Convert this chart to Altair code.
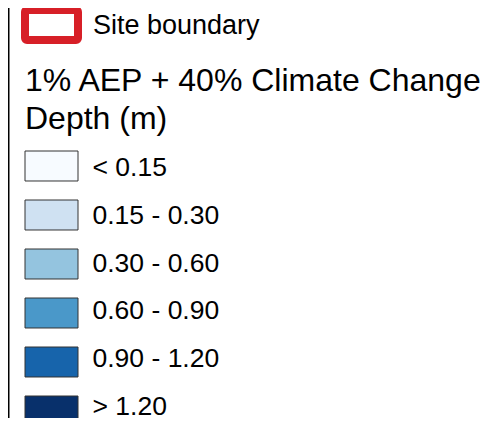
import altair as alt
import pandas as pd

# ---- data ----
depth_labels = ["< 0.15", "0.15 - 0.30", "0.30 - 0.60", "0.60 - 0.90", "0.90 - 1.20", "> 1.20"]
depth_colors = ["#f7fbff", "#cfe1f2", "#94c4df", "#4a98c9", "#1764ab", "#08306b"]
site_label = ["Site boundary"]
site_color = "#d71f27"
title_lines = ["1% AEP + 40% Climate Change", "Depth (m)"]

FONT = "Liberation Sans"
W, H = 488, 410

rows = pd.DataFrame({"i": list(range(len(depth_labels))), "label": depth_labels, "color": depth_colors})
site = pd.DataFrame({"label": site_label})
titles = pd.DataFrame({"j": list(range(len(title_lines))), "text": title_lines})

box_y = alt.Y("i:Q", scale=alt.Scale(domain=[0, len(depth_labels) - 1], range=[158, 403]), axis=None)
label_y = alt.Y("i:Q", scale=alt.Scale(domain=[0, len(depth_labels) - 1], range=[160, 399]), axis=None)

swatches = alt.Chart(rows).mark_point(
    shape="M-1,-0.566H1V0.566H-1Z", size=2809, filled=True, stroke="#333333", strokeWidth=1, opacity=1
).encode(
    x=alt.value(43.5),
    y=box_y,
    fill=alt.Fill("color:N", scale=None, legend=None),
)

labels = alt.Chart(rows).mark_text(
    align="left", baseline="middle", font=FONT, fontSize=26.5, color="#000000"
).encode(
    x=alt.value(84.5),
    y=label_y,
    text="label:N",
)

site_box = alt.Chart(site).mark_rect(
    fill="#ffffff", stroke=site_color, strokeWidth=8, cornerRadius=2
).encode(
    x=alt.value(17), x2=alt.value(70), y=alt.value(2), y2=alt.value(32)
)

site_text = alt.Chart(site).mark_text(
    align="left", baseline="alphabetic", font=FONT, fontSize=27, color="#000000"
).encode(
    x=alt.value(85), y=alt.value(26), text="label:N"
)

title_text = alt.Chart(titles).mark_text(
    align="left", baseline="alphabetic", font=FONT, fontSize=32, color="#000000"
).encode(
    x=alt.value(17),
    y=alt.Y("j:Q", scale=alt.Scale(domain=[0, 1], range=[83, 120.5]), axis=None),
    text="text:N",
)

frame = pd.DataFrame({"k": [0]})
left_border = alt.Chart(frame).mark_rule(color="#000000", strokeWidth=2).encode(
    x=alt.value(0.5), y=alt.value(0), y2=alt.value(H)
)

chart = alt.layer(
    left_border, site_box, site_text, title_text, swatches, labels
).resolve_scale(y="independent").properties(
    width=W, height=H, padding=0, autosize=alt.AutoSizeParams(type="none"), background="#ffffff"
).configure_view(stroke=None)

chart.save("out.html", embed_options={"renderer": "svg", "actions": False})
